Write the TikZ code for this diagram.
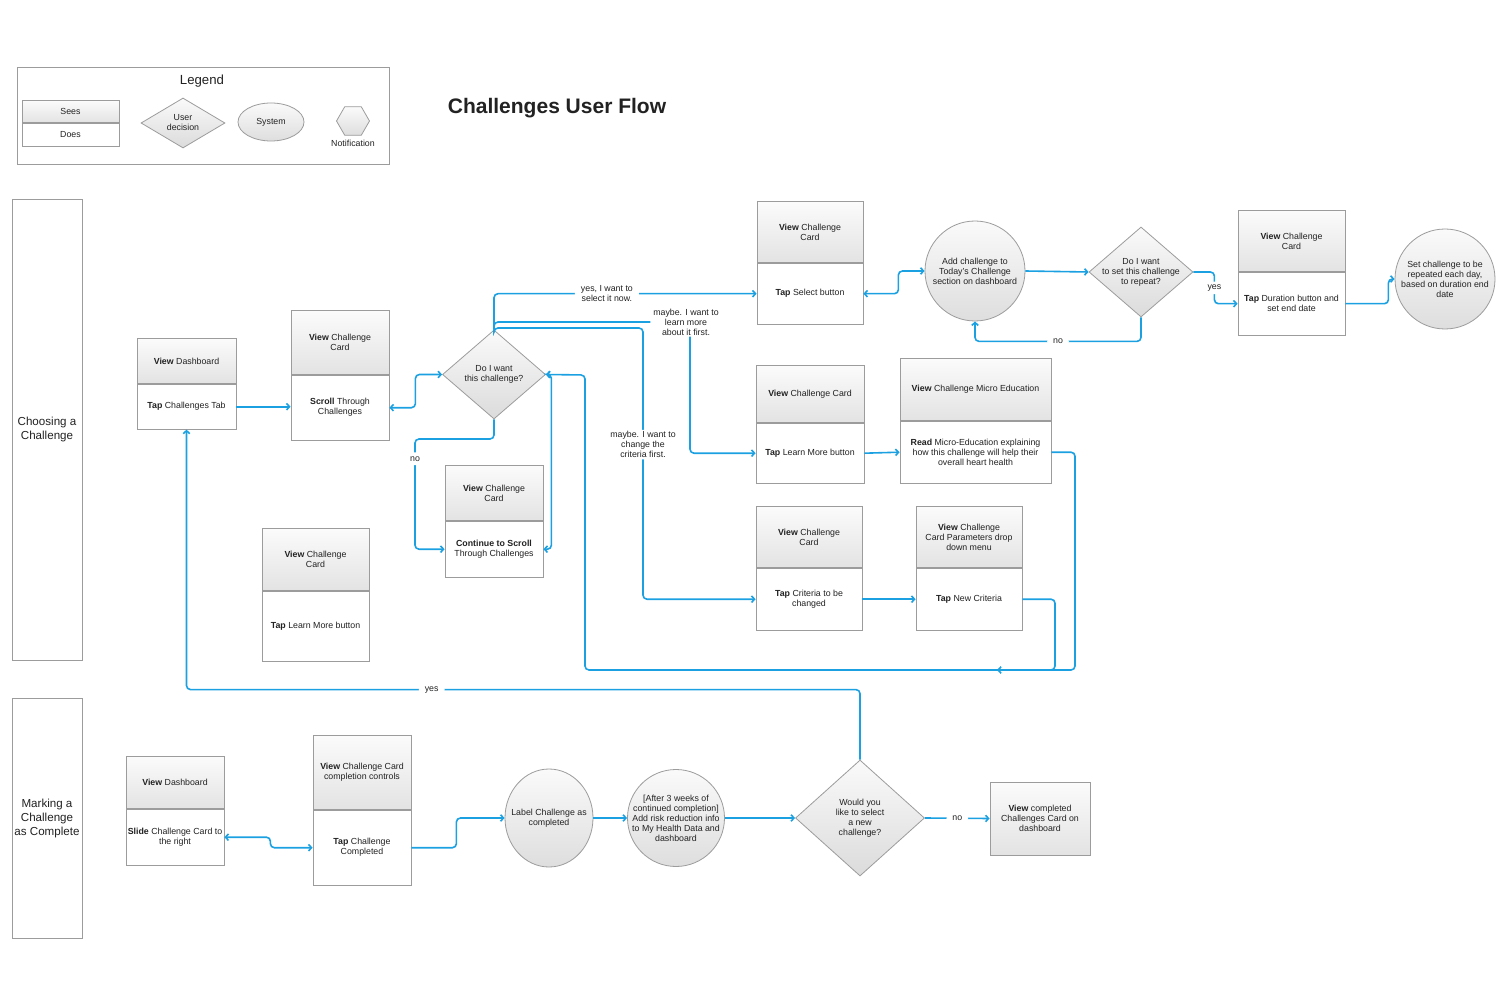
\documentclass[tikz,border=0pt]{standalone}
\usepackage{fontspec}
\setmainfont{Liberation Sans}
\usepackage{xcolor}
\usepackage{tikz}
\usetikzlibrary{shapes.geometric,arrows.meta,calc}
\definecolor{flowblue}{HTML}{1BA1E2}
\definecolor{boxline}{HTML}{9C9C9C}
\definecolor{ink}{HTML}{222222}
\newcommand\flowfont{\fontsize{8.8}{10}\selectfont}
\tikzset{
	flowtext/.style={font=\flowfont, text=ink, align=center},
	sees/.style={flowtext, draw=boxline, line width=0.8pt, top color=gray!3, bottom color=gray!22, inner sep=1pt},
	does/.style={flowtext, draw=boxline, line width=0.8pt, fill=white, inner sep=1pt},
	decision/.style={diamond, draw=boxline, line width=0.8pt, top color=gray!4, bottom color=gray!28, inner sep=0pt},
	system/.style={draw=boxline, line width=0.8pt, top color=gray!4, bottom color=gray!26, inner sep=0pt},
	lane/.style={draw=boxline, line width=0.8pt, fill=white, align=center, text=ink, inner sep=0pt, font=\fontsize{11.6}{14}\selectfont},
	flow/.style={draw=flowblue, line width=1.6pt, rounded corners=4pt},
	flowlabel/.style={flowtext, fill=white, inner ysep=1.5pt, inner xsep=6pt},
	>={Straight Barb[length=3pt,width=6.5pt]}
}
\def\Card#1#2#3#4#5#6#7#8{%
	\node[sees, minimum width=#4pt, minimum height=#5pt, anchor=north] (#1t) at (#2,#3) {#7};
	\node[does, minimum width=#4pt, minimum height=#6pt, anchor=north] (#1) at (#1t.south) {#8};
}

\begin{document}
\begin{tikzpicture}[x=1pt, y=-1pt]
\fill[white] (0,0) rectangle (1500,1000);
\useasboundingbox (0,0) rectangle (1500,1000);

% legend
\node[draw=boxline, line width=0.8pt, minimum width=372pt, minimum height=97pt] (legend) at (203,115.5) {};
\node[font=\fontsize{13.2}{15}\selectfont, text=ink] (legendtitle) at (202,81) {Legend};
\Card{legcard}{70.5}{100}{97}{22}{23}{Sees}{Does}
\node[decision, minimum width=84pt, minimum height=50pt, label={[flowtext]center:{User\\decision}}] (legdecision) at (183,123) {};
\node[system, ellipse, flowtext, minimum width=66pt, minimum height=38pt] (legsystem) at (271,122) {System};
\node[system, regular polygon, regular polygon sides=6, minimum size=33pt] (legnotif) at (353,121) {};
\node[flowtext] (legnotiftext) at (353,143) {Notification};

\node[font=\bfseries\fontsize{21}{24}\selectfont, text=ink] (title) at (557,108) {Challenges User Flow};

% swim lanes
\node[lane, minimum width=70pt, minimum height=461pt] (lanechoose) at (47,429.5) {Choosing a\\Challenge};
\node[lane, minimum width=70pt, minimum height=240pt] (lanemark) at (47,818) {Marking a\\Challenge\\as Complete};

% choosing a challenge
\Card{dashA}{186.5}{338}{99}{45}{45}{\textbf{View} Dashboard}{\textbf{Tap} Challenges Tab}
\Card{scroll}{340}{310}{98}{64}{65}{\textbf{View} Challenge\\Card}{\textbf{Scroll} Through\\Challenges}
\Card{cont}{494}{465}{98}{55}{56}{\textbf{View} Challenge\\Card}{\textbf{Continue to Scroll}\\Through Challenges}
\Card{more}{315.5}{528}{107}{62}{70}{\textbf{View} Challenge\\Card}{\textbf{Tap} Learn More button}
\Card{select}{810}{201}{106}{61}{61}{\textbf{View} Challenge\\Card}{\textbf{Tap} Select button}
\Card{dur}{1291.5}{210}{107}{61}{63}{\textbf{View} Challenge\\Card}{\textbf{Tap} Duration button and\\set end date}
\Card{learn}{810}{365}{108}{57}{60}{\textbf{View} Challenge Card}{\textbf{Tap} Learn More button}
\Card{micro}{975.5}{358}{151}{62}{62}{\textbf{View} Challenge Micro Education}{\textbf{Read} Micro-Education explaining\\how this challenge will help their\\overall heart health}
\Card{crit}{809}{506}{106}{61}{62}{\textbf{View} Challenge\\Card}{\textbf{Tap} Criteria to be\\changed}
\Card{param}{969}{506}{106}{61}{62}{\textbf{View} Challenge\\Card Parameters drop\\down menu}{\textbf{Tap} New Criteria}

\node[decision, minimum width=103pt, minimum height=89pt, label={[flowtext]center:{Do I want\\this challenge?}}] (want) at (494,374.5) {};
\node[decision, minimum width=104pt, minimum height=90pt, label={[flowtext]center:{Do I want\\to set this challenge\\to repeat?}}] (repeat) at (1141,272) {};
\node[system, circle, minimum size=100pt, label={[flowtext]center:{Add challenge to\\Today's Challenge\\section on dashboard}}] (add) at (975,271) {};
\node[system, circle, minimum size=100pt, label={[flowtext]center:{Set challenge to be\\repeated each day,\\based on duration end\\date}}] (daily) at (1445,279) {};

% marking a challenge as complete
\Card{dashB}{175}{756}{98}{52}{56}{\textbf{View} Dashboard}{\textbf{Slide} Challenge Card to\\the right}
\Card{compl}{362}{735}{98}{74}{75}{\textbf{View} Challenge Card\\completion controls}{\textbf{Tap} Challenge\\Completed}
\node[system, ellipse, minimum width=88pt, minimum height=98pt, label={[flowtext]center:{Label Challenge as\\completed}}] (mark) at (549,818) {};
\node[system, circle, minimum size=97pt, label={[flowtext]center:{{[}After 3 weeks of\\continued completion{]}\\Add risk reduction info\\to My Health Data and\\dashboard}}] (risk) at (676,818) {};
\node[decision, minimum width=129pt, minimum height=116pt, label={[flowtext]center:{Would you\\like to select\\a new\\challenge?}}] (again) at (860,818) {};
\node[sees, minimum width=100pt, minimum height=73pt] (done) at (1040,818.5) {\textbf{View} completed\\Challenges Card on\\dashboard};

\coordinate (merge) at (997,670);

% connectors
\draw[flow,->] (dashA.east) -- (dashA.east -| scroll.west);
\draw[flow,<->] (scroll.east) -- ++(26,0) |- (want.west);
\draw[flow,->] (want.south) |- (415,439) |- node[flowlabel, pos=0.09, inner ysep=4pt] {no} (cont.west);
\draw[flow,<->] (cont.east) -- ++(8,0) |- (want.east);
\draw[flow,->] (want.north) |- node[flowlabel, pos=0.715] {yes, I want to\\select it now.} (select.west);
\draw[flow,->] (want.north) |- (690,322) node[flowlabel, xshift=-4pt, inner xsep=3pt] {maybe. I want to\\learn more\\about it first.} |- (learn.west);
\draw[flow,->] (want.north) |- (643,328) |- node[flowlabel, pos=0.215] {maybe. I want to\\change the\\criteria first.} (crit.west);
\draw[flow,<->] (select.east) -- ++(35,0) |- (add.west);
\draw[flow,->] (add.east) -- (repeat.west);
\draw[flow,->] (repeat.south) -- ++(0,24) -| node[flowlabel, pos=0.25] {no} (add.south);
\draw[flow,->] (repeat.east) -- ++(21,0) |- node[flowlabel, pos=0.25, inner ysep=3pt] {yes} (dur.west);
\draw[flow,->] (dur.east) -- ++(43,0) |- (daily.west);
\draw[flow,->] (learn.east) -- (micro.west);
\draw[flow,->] (crit.east) -- (param.west);
\draw[flow,->] (micro.east) -| (1075,670) -| (585,375) -- (want.east);
\draw[flow,->] (param.east) -| (1055,670) -- (merge);

\draw[flow,<->] (dashB.east) -- ++(46,0) |- (compl.west);
\draw[flow,->] (compl.east) -- ++(45,0) |- (mark.west);
\draw[flow,->] (mark.east) -- (risk.west);
\draw[flow,->] (risk.east) -- (again.west);
\draw[flow,->] (again.east) -- node[flowlabel] {no} (done.west);
\draw[flow,->] (again.north) -- ++(0,-70) -| node[flowlabel, pos=0.318] {yes} (dashA.south);
\end{tikzpicture}
\end{document}
